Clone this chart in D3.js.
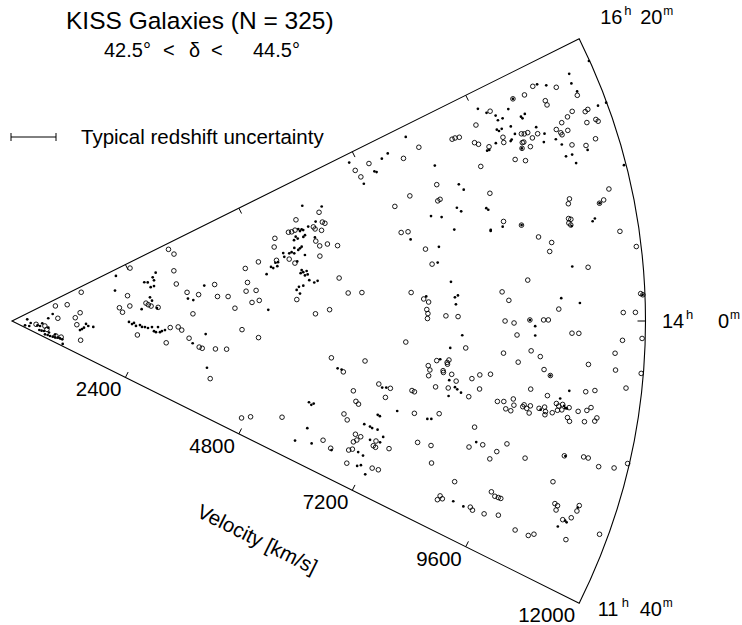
<!DOCTYPE html>
<html>
<head>
<meta charset="utf-8">
<script src="https://cdn.jsdelivr.net/npm/d3@7"></script>
<style>
  body { margin: 0; background: #fff; }
  text { font-family: Arial, "Liberation Sans", Helvetica, sans-serif; fill: #000; }
</style>
</head>
<body>
<svg id="chart" width="742" height="625"></svg>
<script>
// velocity ticks (km/s) and RA labels (h, m)
const velTicks = [2400, 4800, 7200, 9600, 12000];
const raLabels = [[16, 20], [14, 0], [11, 40]];
const raRange = [11 + 40 / 60, 16 + 20 / 60];

// KISS galaxies (open circles): [RA hours, velocity km/s]
const kissGalaxies = [
  [13.24,630],[12.81,680],[13.31,460],[12.34,880],[12.40,980],[15.69,870],[15.45,1090],[14.30,870],
  [15.99,1420],[14.61,1300],[14.26,1200],[13.71,1230],[12.62,1350],[16.17,3260],[15.98,3320],[15.52,3210],
  [15.12,3190],[15.09,2240],[14.62,2050],[14.40,2100],[14.64,2250],[14.67,2560],[14.60,2600],[14.54,2650],
  [14.47,2780],[13.44,2390],[13.29,2950],[13.79,3000],[13.82,3150],[13.73,3220],[14.82,3360],[14.71,3570],
  [14.90,3900],[14.60,3920],[14.57,4120],[14.20,3430],[13.51,3370],[13.30,3580],[13.28,3640],[13.31,3890],
  [13.34,4100],[12.57,3910],[16.13,2450],[15.72,6170],[15.73,5710],[15.56,6170],[15.53,6210],[15.53,5980],
  [15.49,6000],[15.57,5500],[15.56,5560],[15.57,5630],[15.44,6110],[15.54,5220],[15.30,5950],[15.21,6000],
  [15.21,6150],[15.15,6330],[15.39,5160],[15.05,5960],[15.11,5380],[15.02,5470],[15.14,5140],[15.19,4800],
  [14.66,6250],[14.38,5410],[14.42,4700],[14.63,4660],[15.12,4530],[14.82,4520],[14.64,4470],[14.29,4230],
  [14.39,4560],[14.12,5750],[14.18,6020],[14.42,6390],[14.41,6650],[13.81,4360],[13.66,4680],[11.98,4720],
  [12.07,4870],[12.27,5430],[16.04,8380],[15.99,8030],[16.10,7390],[16.09,7100],[15.98,7150],[15.57,8450],
  [15.39,8380],[15.54,7900],[15.47,7570],[15.13,7560],[15.12,7690],[14.87,7950],[14.68,8030],[14.36,7580],
  [14.27,7810],[14.23,7900],[14.14,7860],[14.09,7880],[14.03,7870],[13.73,7470],[13.42,6090],[13.43,6730],
  [13.23,6350],[13.53,8080],[13.46,7930],[13.41,7970],[13.34,7960],[13.14,7050],[13.11,7280],[12.98,6600],
  [12.98,7220],[13.13,7690],[13.12,7740],[13.22,8120],[12.84,6690],[12.81,6750],[12.62,6530],[12.55,6620],
  [12.86,7820],[12.92,8280],[12.15,6310],[12.08,6500],[12.39,6850],[12.38,6960],[12.32,6910],[12.28,6860],
  [12.39,7260],[12.32,7240],[12.31,7290],[12.35,7540],[12.15,6830],[12.18,6890],[11.97,6890],[12.04,7370],
  [12.05,7490],[12.53,8020],[12.54,8280],[12.35,8390],[16.14,10820],[16.05,11220],[15.92,11530],[16.10,10610],
  [16.11,10380],[15.98,10930],[15.94,10930],[16.09,9890],[15.81,11330],[15.77,11560],[15.78,11620],[15.78,11210],
  [15.68,11700],[15.66,11730],[15.68,11520],[15.75,11070],[16.02,9540],[15.71,10930],[15.67,11130],[15.78,10280],
  [15.77,10330],[15.77,10400],[15.73,10570],[15.67,10990],[15.65,11000],[15.98,9020],[15.98,9080],[15.97,9160],
  [15.81,9930],[15.76,9910],[15.71,10450],[15.70,10270],[15.70,10240],[15.53,11580],[15.86,9390],[15.83,9450],
  [15.54,11120],[15.50,11370],[15.77,9620],[15.64,10360],[15.65,10200],[15.57,10010],[15.53,10190],[15.61,9350],
  [15.32,9370],[15.10,11580],[15.40,8430],[15.09,10810],[15.05,10770],[15.02,11440],[15.00,11350],[14.92,10720],
  [14.91,10760],[14.88,10710],[14.86,10740],[15.01,9500],[14.94,9820],[14.74,11640],[14.80,10100],[14.73,10330],
  [14.65,10270],[14.60,11910],[14.47,10960],[14.40,9800],[14.30,9300],[14.21,9420],[14.11,10360],[14.22,11920],
  [14.21,11960],[14.06,8220],[14.05,8450],[14.00,9340],[13.98,9510],[14.01,9810],[14.01,10070],[14.01,10160],
  [14.07,11580],[14.07,11810],[13.86,9570],[13.89,10610],[13.89,10740],[13.84,11570],[13.86,11940],[13.70,8610],
  [13.71,9850],[13.67,9330],[13.66,10030],[13.73,11440],[13.55,8310],[13.52,8280],[13.50,8290],[13.59,9620],
  [13.62,10950],[13.42,8220],[13.40,8230],[13.54,10120],[13.59,11470],[13.39,8390],[13.58,11960],[13.49,10250],
  [13.44,9120],[13.42,8920],[13.37,8780],[13.32,8490],[13.23,8360],[13.27,8950],[13.34,9910],[13.45,11700],
  [13.38,10950],[13.40,11120],[13.17,8770],[13.30,10240],[13.17,9320],[13.18,9440],[13.22,9610],[13.16,9640],
  [13.11,9500],[13.10,9600],[13.18,9830],[13.16,9810],[13.15,9890],[13.18,9950],[13.11,9950],[13.17,10120],
  [13.19,10220],[13.15,10250],[13.12,10250],[13.15,10380],[13.24,10430],[13.22,10480],[13.24,10550],[13.18,10470],
  [13.19,10550],[13.22,10680],[13.20,10860],[13.22,11020],[13.25,11090],[13.13,10680],[13.10,10730],[13.12,11010],
  [13.14,11200],[13.17,11230],[12.86,8990],[12.64,8980],[12.70,9220],[12.77,9660],[12.67,9510],[12.58,9420],
  [12.68,10060],[12.79,10770],[12.82,11130],[12.82,11220],[12.77,11450],[12.79,11740],[12.85,11970],[12.24,8920],
  [12.54,10690],[12.27,9640],[12.24,9730],[12.24,9800],[12.24,9850],[12.04,8760],[12.02,8820],[11.99,8740],
  [12.05,9370],[12.03,9430],[12.04,9660],[12.08,9920],[12.36,10850],[12.35,10910],[12.31,10910],[12.41,11300],
  [12.36,11290],[12.29,11230],[12.25,11090],[12.01,10320],[12.01,10590],[12.04,10680],[12.10,11280],[12.24,11840]
];

// comparison galaxies (small dots): [RA hours, velocity km/s]
const otherGalaxies = [
  [14.56,290],[12.39,260],[12.58,340],[13.16,490],[13.11,540],[13.08,700],[12.39,545],[12.40,590],
  [12.47,635],[12.06,674],[12.11,726],[12.10,774],[12.14,826],[12.17,871],[12.23,922],[12.25,966],
  [12.23,1014],[11.85,1054],[13.62,575],[13.46,356],[12.48,734],[12.46,854],[14.86,782],[14.38,689],
  [13.80,1403],[13.67,1448],[13.53,1369],[13.42,1335],[13.33,1299],[13.63,1544],[15.64,2871],[15.52,2790],
  [15.41,2798],[15.44,2611],[15.40,2673],[15.21,2704],[15.22,2770],[16.07,2146],[15.45,2034],[14.86,2652],
  [14.73,2680],[14.46,2466],[14.45,2757],[13.96,2216],[13.87,2274],[13.92,2311],[13.80,2350],[13.84,2425],
  [13.77,2465],[13.77,2521],[13.74,2579],[13.78,2654],[13.64,2696],[13.61,2735],[13.79,2768],[13.62,2811],
  [13.66,2847],[13.70,2903],[14.64,3360],[14.58,3457],[14.92,3703],[13.38,3448],[13.66,3677],[12.81,3798],
  [15.91,5916],[15.79,6254],[15.60,6052],[15.56,5889],[15.57,5695],[15.55,5755],[15.53,5779],[15.53,5715],
  [15.44,5783],[15.42,5744],[15.46,5606],[15.42,5633],[15.41,5557],[15.36,5952],[15.27,5665],[15.25,5626],
  [15.23,5587],[15.28,5524],[15.22,5455],[15.19,5498],[15.21,5406],[15.24,5296],[15.17,5299],[15.12,5688],
  [15.04,5519],[15.10,5110],[15.10,5161],[15.04,5012],[15.01,5049],[15.03,5132],[14.92,4904],[14.88,5571],
  [14.83,5542],[14.84,5594],[14.85,5661],[14.79,5670],[14.78,5616],[14.69,5684],[14.64,5772],[14.66,5839],
  [14.60,5474],[14.61,5558],[14.55,5424],[14.48,5480],[14.22,4859],[16.21,8233],[16.12,7793],[16.09,7650],
  [16.22,7057],[15.98,7427],[15.96,7460],[15.88,7154],[15.78,8533],[15.24,8182],[15.02,7707],[14.87,8208],
  [14.69,8139],[14.30,7860],[13.27,6233],[13.26,6311],[13.10,7125],[13.11,7201],[12.65,5832],[12.62,5888],
  [12.65,5925],[12.73,7152],[12.72,7198],[12.84,7493],[12.83,8083],[12.84,8157],[12.56,6953],[12.55,7070],
  [12.54,7117],[12.54,7224],[12.24,5951],[11.98,5820],[12.04,6131],[12.06,6527],[12.38,7146],[12.39,7341],
  [12.47,7366],[12.17,7012],[12.15,7121],[11.99,7091],[12.02,7151],[11.93,7294],[16.11,11546],[16.14,10910],
  [16.10,11061],[16.03,11512],[15.95,11554],[16.11,10380],[15.78,11826],[16.16,9697],[16.04,10222],[16.09,9816],
  [16.03,9953],[15.98,9959],[15.98,10055],[15.93,10389],[15.91,10404],[15.94,10476],[15.88,10142],[15.79,10586],
  [15.90,9873],[15.88,9902],[15.89,9965],[15.80,10164],[15.71,10693],[15.76,10070],[15.75,10042],[15.63,10862],
  [15.78,9764],[15.64,10629],[15.57,10938],[15.74,9561],[15.74,9603],[15.65,10196],[15.46,11375],[15.46,10948],
  [15.46,11069],[15.38,11097],[15.50,8851],[15.43,8911],[15.00,11352],[15.26,8696],[15.21,8758],[15.18,9235],
  [15.16,9265],[15.20,8373],[14.86,11160],[14.88,11211],[14.96,9465],[14.94,9822],[14.95,9231],[15.03,8555],
  [14.85,10752],[16.14,11987],[15.78,11990],[15.26,11962],[14.94,9226],[14.49,10663],[14.45,8348],[14.21,10413],
  [14.16,10763],[14.27,8402],[14.29,8461],[14.19,8415],[14.01,9811],[13.95,9911],[13.86,9915],[13.84,8533],
  [13.69,8317],[13.55,8144],[13.49,10249],[13.32,8358],[13.25,8484],[13.23,8533],[13.20,8613],[13.37,10639],
  [13.14,8391],[13.29,10487],[13.16,10154],[13.23,10582],[13.21,10610],[13.21,10640],[12.71,9088],[12.79,10790],
  [12.04,9029],[12.03,9243],[12.39,11285],[12.25,11138],[12.24,11177],[12.18,11048],[14.21,11955]
];

const svg = d3.select("#chart");
const apex = [12, 321];
const R = 633.5;
const halfAngle = 26.45; // degrees, opening of the wedge on screen

const rScale = d3.scaleLinear().domain([0, 12000]).range([0, R]);
const aScale = d3.scaleLinear().domain(raRange).range([-halfAngle, halfAngle]);
const rad = d => d * Math.PI / 180;

const toXY = (ra, v) => {
  const a = rad(aScale(ra)), r = rScale(v);
  return [apex[0] + r * Math.cos(a), apex[1] - r * Math.sin(a)];
};

const plot = svg.append("g");

// wedge outline
const wedge = d3.arc()
  .innerRadius(0)
  .outerRadius(R)
  .startAngle(rad(90 - halfAngle))
  .endAngle(rad(90 + halfAngle));

plot.append("path")
  .attr("transform", `translate(${apex[0]},${apex[1]})`)
  .attr("d", wedge())
  .attr("fill", "none")
  .attr("stroke", "#000")
  .attr("stroke-width", 1.1);

// ticks on the two straight edges, pointing inward
const tickLen = 6;
const hA = rad(halfAngle);
velTicks.filter(v => v < 12000).forEach(v => {
  const up = toXY(raRange[1], v);
  plot.append("line")
    .attr("x1", up[0]).attr("y1", up[1])
    .attr("x2", up[0] + tickLen * Math.sin(hA)).attr("y2", up[1] + tickLen * Math.cos(hA))
    .attr("stroke", "#000");
  const lo = toXY(raRange[0], v);
  plot.append("line")
    .attr("x1", lo[0]).attr("y1", lo[1])
    .attr("x2", lo[0] + tickLen * Math.sin(hA)).attr("y2", lo[1] - tickLen * Math.cos(hA))
    .attr("stroke", "#000");
});

// 14h tick on the arc
const mid = toXY(14, 12000);
plot.append("line")
  .attr("x1", mid[0]).attr("y1", mid[1])
  .attr("x2", mid[0] - 8).attr("y2", mid[1])
  .attr("stroke", "#000");

// velocity labels along the lower edge
velTicks.forEach(v => {
  const p = toXY(raRange[0], v);
  svg.append("text")
    .attr("x", p[0] - 4)
    .attr("y", p[1] + 19)
    .attr("text-anchor", "end")
    .attr("font-size", 20.5)
    .text(v);
});

// axis title, parallel to the lower edge
const vp = toXY(raRange[0], 6000);
const off = 93;
svg.append("text")
  .attr("transform", `translate(${vp[0] - off * Math.sin(hA)},${vp[1] + off * Math.cos(hA)}) rotate(${halfAngle})`)
  .attr("text-anchor", "middle")
  .attr("font-size", 20.5)
  .text("Velocity [km/s]");

// RA labels
const raPos = [
  { at: toXY(raLabels[0][0] + raLabels[0][1] / 60, 12000), dx: 21, dy: -15, mdx: 40 },
  { at: toXY(raLabels[1][0] + raLabels[1][1] / 60, 12000), dx: 16.5, dy: 7, mdx: 56 },
  { at: toXY(raLabels[2][0] + raLabels[2][1] / 60, 12000), dx: 18.5, dy: 13, mdx: 42 }
];
raLabels.forEach(([h, m], i) => {
  const p = raPos[i];
  const x0 = p.at[0] + p.dx, y0 = p.at[1] + p.dy;
  const t = svg.append("text").attr("font-size", 20);
  t.append("tspan").attr("x", x0).attr("y", y0).text(h);
  t.append("tspan").attr("x", x0 + 24).attr("y", y0 - 9).attr("font-size", 13).text("h");
  t.append("tspan").attr("x", x0 + p.mdx).attr("y", y0).text(m);
  t.append("tspan").attr("x", x0 + p.mdx + (m < 10 ? 12 : 23)).attr("y", y0 - 9).attr("font-size", 12).text("m");
});

// galaxies
plot.append("g").selectAll("circle")
  .data(otherGalaxies)
  .join("circle")
  .attr("cx", d => toXY(d[0], d[1])[0])
  .attr("cy", d => toXY(d[0], d[1])[1])
  .attr("r", 1.35)
  .attr("fill", "#000");

plot.append("g").selectAll("circle")
  .data(kissGalaxies)
  .join("circle")
  .attr("cx", d => toXY(d[0], d[1])[0])
  .attr("cy", d => toXY(d[0], d[1])[1])
  .attr("r", 2.3)
  .attr("fill", "none")
  .attr("stroke", "#000")
  .attr("stroke-width", 0.9);

// title
svg.append("text")
  .attr("x", 66).attr("y", 29)
  .attr("font-size", 24.5)
  .text("KISS Galaxies (N = 325)");

// declination range, thin font
const sub = svg.append("text")
  .attr("y", 57)
  .attr("font-size", 20)
  .attr("font-family", "'DejaVu Sans', sans-serif")
  .attr("font-weight", 200);
[["42.5°", 104], ["<", 163], ["δ", 189], ["<", 211], ["44.5°", 253]].forEach(([s, x]) => {
  sub.append("tspan").attr("x", x).text(s);
});

// legend: typical redshift uncertainty
const leg = svg.append("g").attr("stroke", "#000");
leg.append("line").attr("x1", 11).attr("x2", 56).attr("y1", 137).attr("y2", 137);
leg.append("line").attr("x1", 11).attr("x2", 11).attr("y1", 133).attr("y2", 141);
leg.append("line").attr("x1", 56).attr("x2", 56).attr("y1", 133).attr("y2", 141);
svg.append("text")
  .attr("x", 81).attr("y", 144)
  .attr("font-size", 20.5)
  .text("Typical redshift uncertainty");
</script>
</body>
</html>
